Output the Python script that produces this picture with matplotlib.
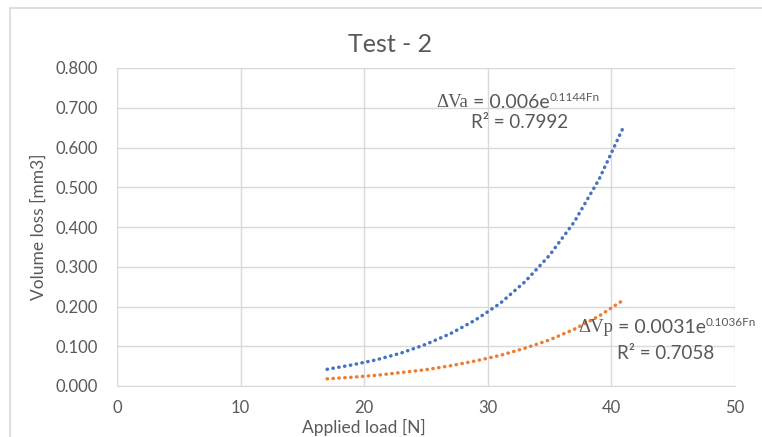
import matplotlib
matplotlib.use("Agg")
from matplotlib import pyplot as plt
from matplotlib.lines import Line2D

# trendline values (Applied load [N] vs Volume loss [mm3])
load_n = [17, 19, 21, 23, 25, 27, 29, 31, 33, 35, 37, 39, 41]
dva = [0.042, 0.053, 0.066, 0.083, 0.105, 0.132, 0.166, 0.208, 0.262, 0.329, 0.413, 0.520, 0.653]
dvp = [0.018, 0.022, 0.027, 0.034, 0.041, 0.051, 0.063, 0.077, 0.095, 0.116, 0.143, 0.176, 0.217]

x_ticks = [0, 10, 20, 30, 40, 50]
y_ticks = [0.0, 0.1, 0.2, 0.3, 0.4, 0.5, 0.6, 0.7, 0.8]

BLUE = "#4472C4"
ORANGE = "#ED7D31"
GREY = "#595959"
GRID = "#D9D9D9"

plt.rcParams["font.family"] = ["Lato", "DejaVu Sans"]

fig = plt.figure(figsize=(7.62, 4.37), dpi=100)
ax = fig.add_axes([117 / 762, 51 / 437, 618 / 762, 318 / 437])

dot = (0, (0.1, 1.6))
ax.plot(load_n, dva, color=BLUE, lw=2.5, linestyle=dot, dash_capstyle="round")
ax.plot(load_n, dvp, color=ORANGE, lw=2.5, linestyle=dot, dash_capstyle="round")

ax.set_xlim(0, 50)
ax.set_ylim(0, 0.8)
ax.set_xticks(x_ticks)
ax.set_yticks(y_ticks)
ax.set_yticklabels([f"{v:.3f}" for v in y_ticks])
ax.tick_params(length=0, labelsize=12, colors=GREY)
ax.tick_params(axis="x", pad=10)
ax.tick_params(axis="y", pad=14)
ax.grid(True, color=GRID, lw=1)
ax.set_axisbelow(True)
for side in ["top", "right", "left"]:
    ax.spines[side].set_visible(False)
ax.spines["bottom"].set_color(GRID)

ax.set_ylabel("Volume loss [mm3]", fontsize=12.5, color=GREY, labelpad=6)
fig.text(364 / 762, 1 - 427 / 437, "Applied load [N]", fontsize=12.5, color=GREY,
         ha="center", va="center")
fig.text(390 / 762, 1 - 45 / 437, "Test - 2", fontsize=18, color=GREY,
         ha="center", va="center")

# outer chart frame (top and left edges visible)
fig.add_artist(Line2D([10 / 762, 1], [1 - 8 / 437, 1 - 8 / 437], color=GRID, lw=1.2,
                      transform=fig.transFigure))
fig.add_artist(Line2D([10 / 762, 10 / 762], [0, 1 - 8 / 437], color=GRID, lw=1.2,
                      transform=fig.transFigure))


def equation(x, y, name, coef, expo):
    t1 = ax.text(x, y, "\u0394V" + name, fontsize=13.5, color=GREY,
                 family=["Liberation Serif", "DejaVu Serif"], va="baseline")
    t2 = ax.annotate(" = " + coef + "e", xy=(1, 0), xycoords=t1, fontsize=14,
                     color=GREY, va="bottom")
    ax.annotate(expo + "Fn", xy=(1, 0.45), xycoords=t2, fontsize=8.5,
                color=GREY, va="bottom", annotation_clip=False)


equation(25.8, 0.702, "a", "0.006", "0.1144")
ax.text(32.6, 0.662, "R\u00b2 = 0.7992", fontsize=13.5, color=GREY, ha="center", va="center")
equation(37.3, 0.137, "p", "0.0031", "0.1036")
ax.text(44.4, 0.081, "R\u00b2 = 0.7058", fontsize=13.5, color=GREY, ha="center", va="center")

fig.savefig("out.png", dpi=100)
